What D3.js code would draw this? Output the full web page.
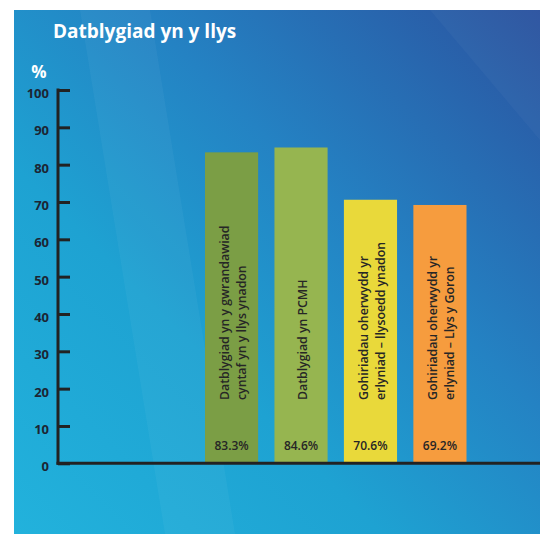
<!DOCTYPE html>
<html><head><meta charset="utf-8">
<script src="https://cdn.jsdelivr.net/npm/d3@7"></script>
<style>html,body{margin:0;padding:0;background:#fff;}svg{display:block;}</style>
</head><body>
<svg id="c" width="540" height="534"></svg>
<script>
const title = "Datblygiad yn y llys";
const unitLabel = "%";
const categories = [
  ["Datblygiad yn y gwrandawiad", "cyntaf yn y llys ynadon"],
  ["Datblygiad yn PCMH"],
  ["Gohiriadau oherwydd yr", "erlyniad – llysoedd ynadon"],
  ["Gohiriadau oherwydd yr", "erlyniad – Llys y Goron"]
];
const values = [83.3, 84.6, 70.6, 69.2];
const valueLabels = ["83.3%", "84.6%", "70.6%", "69.2%"];
const colors = ["#7b9e45", "#96b550", "#e9d93a", "#f69c3e"];
const yTicks = [0, 10, 20, 30, 40, 50, 60, 70, 80, 90, 100];

const svg = d3.select("#c");
const defs = svg.append("defs");
const g = defs.append("linearGradient").attr("id","bg")
  .attr("x1","0%").attr("y1","100%").attr("x2","100%").attr("y2","0%");
[["0%","#22b2dc"],["35%","#1ea2d2"],["62%","#2482c3"],["100%","#2b529f"]]
  .forEach(([o,c])=>g.append("stop").attr("offset",o).attr("stop-color",c));

svg.append("rect").attr("x",14).attr("y",10).attr("width",526).attr("height",524).attr("fill","url(#bg)");
// subtle light diagonal band
svg.append("polygon").attr("points","80,10 150,10 235,534 165,534").attr("fill","#ffffff").attr("opacity",0.04);
svg.append("polygon").attr("points","430,10 540,10 540,140").attr("fill","#ffffff").attr("opacity",0.03);

const y = d3.scaleLinear().domain([0,100]).range([463.3, 90]);
const x = d3.scaleBand().domain(d3.range(values.length)).range([205, 466.5]).paddingInner(0.235).paddingOuter(0);

const font = "'Open Sans', 'Noto Sans', sans-serif";

// title
svg.append("text").attr("x",53).attr("y",38).text(title)
  .attr("fill","#fff").attr("font-family",font).attr("font-weight",700).attr("font-size",19);
svg.append("text").attr("x",39).attr("y",78).attr("text-anchor","middle").text(unitLabel)
  .attr("fill","#fff").attr("font-family",font).attr("font-weight",700).attr("font-size",17);

// bars
svg.selectAll("rect.bar").data(values).join("rect").attr("class","bar")
  .attr("x",(d,i)=>x(i)).attr("width",x.bandwidth())
  .attr("y",d=>y(d)).attr("height",d=>y(0)-y(d))
  .attr("fill",(d,i)=>colors[i]);

// y axis
const axis = d3.axisRight(y).tickValues(yTicks).tickSize(12).tickFormat("");
const ag = svg.append("g").attr("transform","translate(58,0)").call(axis);
ag.select(".domain").remove();
ag.selectAll(".tick line").attr("stroke","#222").attr("stroke-width",3);
svg.append("line").attr("x1",58).attr("x2",58).attr("y1",y(100)-1.5).attr("y2",y(0)+1.5)
  .attr("stroke","#222").attr("stroke-width",3);
svg.append("line").attr("x1",56.5).attr("x2",540).attr("y1",y(0)).attr("y2",y(0))
  .attr("stroke","#222").attr("stroke-width",3);
svg.selectAll("text.yt").data(yTicks).join("text").attr("class","yt")
  .attr("x",49).attr("y",d=>y(d)+8).attr("text-anchor","end").text(d=>d)
  .attr("fill","#1c2533").attr("font-family",font).attr("font-weight",700).attr("font-size",13);

// value labels
svg.selectAll("text.vl").data(valueLabels).join("text").attr("class","vl")
  .attr("x",(d,i)=>x(i)+x.bandwidth()/2).attr("y",450).attr("text-anchor","middle").text(d=>d)
  .attr("fill","#262626").attr("font-family",font).attr("font-weight",600).attr("font-size",12);

// rotated category labels
const lh = 17;
categories.forEach((lines,i)=>{
  const cx = x(i)+x.bandwidth()/2 + 2;
  lines.forEach((t,j)=>{
    const lx = cx + (j - (lines.length-1)/2)*lh + 4;
    svg.append("text").attr("transform",`translate(${lx},400) rotate(-90)`)
      .text(t).attr("fill","#262626").attr("font-family",font).attr("font-weight",600)
      .attr("font-size",12.3);
  });
});
</script>
</body></html>
